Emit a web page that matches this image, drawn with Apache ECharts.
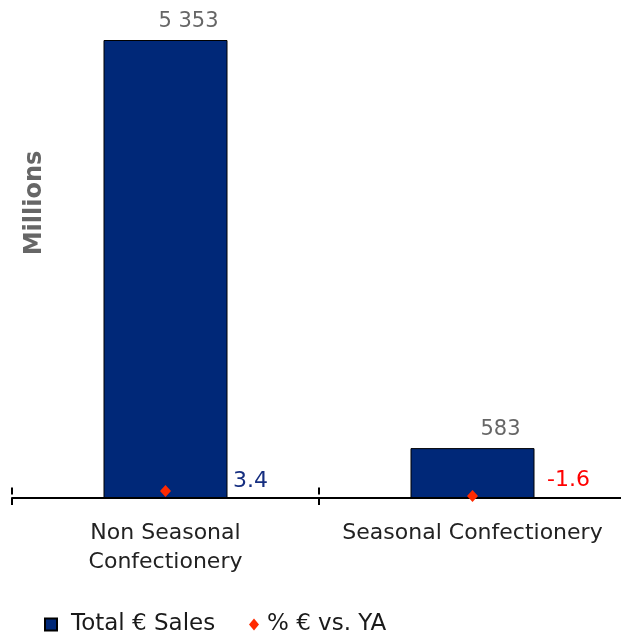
<!DOCTYPE html>
<html>
<head>
<meta charset="utf-8">
<script src="https://cdn.jsdelivr.net/npm/echarts@6/dist/echarts.min.js"></script>
<style>
  html, body { margin: 0; padding: 0; background: #fff; }
  #chart { width: 621px; height: 635px; }
</style>
</head>
<body>
<div id="chart"></div>
<script>
// Confectionery sales: total value (millions) and % change vs. year ago
const categories = ['Non Seasonal\nConfectionery', 'Seasonal Confectionery'];
const totalSales = [5353, 583];
const pctVsYA = [3.4, -1.6];
const seriesNames = ['Total € Sales', '% € vs. YA'];

const FONT = 'DejaVu Sans';

function fmtThousands(v) {
  return String(v).replace(/\B(?=(\d{3})+(?!\d))/g, ' ');
}

const chart = echarts.init(document.getElementById('chart'), null, { renderer: 'canvas' });

// label placement for each category
const salesLabelOffset = [[23, -3], [28, -3]];
const pctLabelStyle = [
  { color: '#152E80', offset: [57, -10] },
  { color: '#FF0000', offset: [64, -16] }
];

chart.setOption({
  animation: false,
  backgroundColor: '#ffffff',
  grid: {
    left: 12, width: 614, top: 40, bottom: 137,
    containLabel: false, outerBoundsMode: 'none'
  },
  legend: [
    {
      data: [seriesNames[0]],
      left: 39, top: 608,
      itemWidth: 12, itemHeight: 12,
      icon: 'rect',
      textStyle: { fontFamily: FONT, fontSize: 23, color: '#1a1a1a', padding: [0, 0, 0, 9] }
    },
    {
      data: [seriesNames[1]],
      left: 244, top: 608,
      itemWidth: 10, itemHeight: 12,
      icon: 'diamond',
      textStyle: { fontFamily: FONT, fontSize: 23, color: '#1a1a1a', padding: [0, 0, 0, 3] }
    }
  ],
  xAxis: [
    {
      type: 'category',
      data: categories,
      boundaryGap: true,
      axisLine: { show: true, lineStyle: { color: '#000', width: 2 } },
      axisTick: { show: true, length: 7, lineStyle: { color: '#000', width: 2 } },
      axisLabel: {
        fontFamily: FONT, fontSize: 22, color: '#222', lineHeight: 29,
        margin: 21, interval: 0
      }
    },
    {
      type: 'category',
      data: categories,
      position: 'bottom',
      boundaryGap: true,
      axisLine: { show: false },
      axisTick: { show: true, inside: true, length: 7, lineStyle: { color: '#000', width: 2 } },
      axisLabel: { show: false }
    }
  ],
  yAxis: [
    {
      type: 'value', min: 0, max: 'dataMax',
      show: true,
      axisLine: { show: false }, axisTick: { show: false },
      axisLabel: { show: false }, splitLine: { show: false }
    },
    {
      type: 'value', min: -3.6, max: 454.4,
      show: true,
      axisLine: { show: false }, axisTick: { show: false },
      axisLabel: { show: false }, splitLine: { show: false }
    }
  ],
  series: [
    {
      name: seriesNames[0],
      type: 'bar',
      barWidth: 124,
      itemStyle: { color: '#002878', borderColor: '#000', borderWidth: 1 },
      data: totalSales.map((v, i) => ({
        value: v,
        label: {
          show: true, position: 'top', offset: salesLabelOffset[i],
          fontFamily: FONT, fontSize: 21, color: '#666',
          formatter: p => fmtThousands(p.value)
        }
      })),
      z: 2
    },
    {
      name: seriesNames[1],
      type: 'scatter',
      yAxisIndex: 1,
      symbol: 'diamond',
      symbolSize: [11, 12],
      itemStyle: { color: '#FF2A00', opacity: 1 },
      data: pctVsYA.map((v, i) => ({
        value: v,
        label: {
          show: true, position: 'right',
          offset: pctLabelStyle[i].offset,
          color: pctLabelStyle[i].color,
          fontFamily: FONT, fontSize: 22,
          formatter: p => p.value.toFixed(1)
        }
      })),
      z: 5
    }
  ],
  graphic: [
    {
      type: 'text',
      x: 35, y: 203,
      rotation: Math.PI / 2,
      style: {
        text: 'Millions',
        font: 'bold 24px "DejaVu Sans"',
        fill: '#666',
        align: 'center',
        verticalAlign: 'middle'
      }
    }
  ]
});
</script>
</body>
</html>
